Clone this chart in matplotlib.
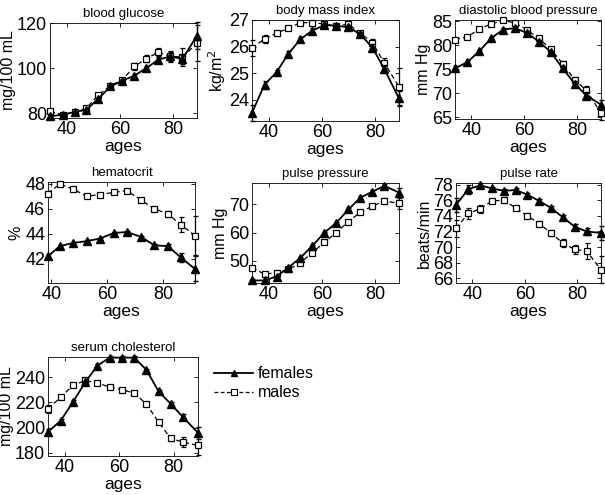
import matplotlib
matplotlib.use("Agg")
import matplotlib.pyplot as plt
from matplotlib.lines import Line2D

plt.rcParams['font.family'] = ['Liberation Sans', 'DejaVu Sans']

ages = [33.8, 38.5, 43, 47.5, 52, 56.5, 61, 65.5, 70, 74.5, 79, 83.5, 89]
ages_hct = [38.8, 43, 47.7, 52.6, 57.2, 62.3, 67, 72.1, 76.7, 81.6, 86.2, 91.3]

glucose_f = [78.5, 79.3, 80.4, 81.5, 86.4, 91.8, 94.4, 96.6, 100, 103.7, 105.2, 104, 114.4]
glucose_m = [80.7, 79.3, 80.4, 82.2, 88.1, 92.1, 94.8, 100.7, 104.2, 107, 105.2, 104.9, 111]
glucose_fe = [0.6, 0.5, 0.5, 0.5, 0.6, 0.7, 0.8, 0.9, 1.0, 1.5, 2.0, 2.0, 6.0]
glucose_me = [0.6, 0.5, 0.5, 0.5, 0.6, 0.7, 0.8, 1.5, 1.5, 2.0, 2.5, 4.0, 8.0]

bmi_f = [23.5, 24.56, 25.03, 25.73, 26.28, 26.6, 26.81, 26.78, 26.73, 26.46, 25.96, 25.15, 24.04]
bmi_m = [25.94, 26.29, 26.5, 26.69, 26.9, 26.9, 26.85, 26.78, 26.84, 26.5, 26.15, 25.38, 24.48]
bmi_fe = [0.3, 0.15, 0.1, 0.1, 0.08, 0.08, 0.08, 0.08, 0.08, 0.1, 0.12, 0.15, 0.3]
bmi_me = [0.3, 0.15, 0.1, 0.08, 0.06, 0.06, 0.06, 0.08, 0.08, 0.1, 0.12, 0.2, 0.7]

dbp_f = [75.2, 76.5, 78.8, 81.5, 83.3, 83.6, 82.6, 80.8, 78.6, 75.2, 72.0, 69.5, 67.6]
dbp_m = [81.2, 81.8, 83.4, 84.5, 85.2, 84.7, 83.2, 81.5, 79.2, 76.2, 72.8, 70.6, 65.8]
dbp_fe = [0.4, 0.3, 0.3, 0.3, 0.3, 0.3, 0.3, 0.3, 0.3, 0.4, 0.5, 0.7, 1.0]
dbp_me = [0.4, 0.3, 0.3, 0.3, 0.3, 0.3, 0.3, 0.3, 0.4, 0.5, 0.6, 1.0, 1.5]

hct_f = [42.2, 43.0, 43.25, 43.4, 43.6, 44.05, 44.13, 43.73, 43.07, 43.0, 42.1, 41.17]
hct_m = [47.2, 47.97, 47.57, 46.99, 47.12, 47.3, 47.44, 46.67, 46.0, 45.57, 44.72, 43.84]
hct_fe = [0.15, 0.1, 0.08, 0.08, 0.08, 0.08, 0.08, 0.1, 0.12, 0.15, 0.35, 1.0]
hct_me = [0.2, 0.1, 0.08, 0.08, 0.08, 0.08, 0.08, 0.1, 0.15, 0.25, 0.6, 1.55]

pp_f = [43.0, 43.0, 44.4, 47.6, 51.1, 55.3, 60.0, 63.5, 68.2, 72.4, 74.5, 76.6, 74.2]
pp_m = [47.6, 45.2, 45.8, 46.9, 49.3, 52.9, 56.6, 60.0, 63.9, 67.2, 69.4, 71.2, 70.4]
pp_fe = [0.4, 0.3, 0.3, 0.3, 0.3, 0.3, 0.3, 0.4, 0.4, 0.5, 0.6, 0.8, 1.5]
pp_me = [0.5, 0.4, 0.3, 0.3, 0.3, 0.3, 0.3, 0.4, 0.4, 0.5, 0.6, 1.0, 2.0]

pr_f = [75.4, 77.4, 77.9, 77.5, 77.2, 77.3, 76.7, 75.9, 75.0, 73.8, 72.6, 72.0, 71.8]
pr_m = [72.4, 74.3, 74.9, 75.9, 76.0, 75.0, 74.0, 73.0, 71.8, 70.5, 69.7, 69.5, 67.1]
pr_fe = [0.9, 0.6, 0.3, 0.2, 0.2, 0.2, 0.2, 0.2, 0.2, 0.3, 0.4, 0.5, 0.9]
pr_me = [1.1, 0.7, 0.5, 0.3, 0.3, 0.3, 0.3, 0.3, 0.4, 0.5, 0.6, 1.0, 1.7]

chol_f = [196.6, 205.5, 220.3, 236.0, 249.2, 255.5, 255.5, 255.5, 245.8, 228.7, 218.7, 208.2, 195.8]
chol_m = [214.7, 224.2, 233.4, 237.4, 235.3, 232.1, 230.0, 227.4, 218.7, 204.2, 191.3, 188.4, 185.8]
chol_fe = [2.0, 1.5, 1.2, 1.0, 1.0, 1.0, 1.0, 1.0, 1.0, 1.2, 1.5, 2.5, 5.0]
chol_me = [3.0, 1.5, 1.2, 1.0, 1.0, 1.0, 1.0, 1.0, 1.2, 1.5, 2.0, 4.0, 8.0]

titles = ["blood glucose", "body mass index", "diastolic blood pressure",
          "hematocrit", "pulse pressure", "pulse rate", "serum cholesterol"]
ylabels = ["mg/100 mL", "kg/m$^2$", "mm Hg", "%", "mm Hg", "beats/min", "mg/100 mL"]
xticks = [40, 60, 80]

panels = [
    (ages, glucose_f, glucose_fe, glucose_m, glucose_me, (77.8, 120), [80, 100, 120]),
    (ages, bmi_f, bmi_fe, bmi_m, bmi_me, (23.19, 26.97), [24, 25, 26, 27]),
    (ages, dbp_f, dbp_fe, dbp_m, dbp_me, (64.6, 85.3), [65, 70, 75, 80, 85]),
    (ages_hct, hct_f, hct_fe, hct_m, hct_me, (40.05, 48.13), [42, 44, 46, 48]),
    (ages, pp_f, pp_fe, pp_m, pp_me, (42.1, 77.6), [50, 60, 70]),
    (ages, pr_f, pr_fe, pr_m, pr_me, (65.4, 78.2), [66, 68, 70, 72, 74, 76, 78]),
    (ages, chol_f, chol_fe, chol_m, chol_me, (177.4, 256.0), [180, 200, 220, 240]),
]

# pixel boxes: left, top, right, bottom
boxes = [
    (50, 23, 197, 118),
    (252, 20, 399, 121),
    (455, 20, 601, 119),
    (48, 182, 195, 283),
    (252, 183, 399, 283),
    (456, 183, 601, 283),
    (48, 357, 198, 456),
]

W, H = 605, 495
fig = plt.figure(figsize=(W / 100, H / 100), dpi=100)

for (x, yf, ef, ym, em, ylim, yt), (l, t, r, b), title, yl in zip(panels, boxes, titles, ylabels):
    ax = fig.add_axes([l / W, 1 - b / H, (r - l) / W, (b - t) / H])
    ax.errorbar(x, ym, yerr=em, color='black', ecolor='black', elinewidth=0.9, capsize=1.8,
                linestyle='--', dashes=(4, 2.5), linewidth=0.9, marker='s', markersize=5,
                markerfacecolor='white', markeredgecolor='black', markeredgewidth=0.9,
                clip_on=False, zorder=3)
    ax.errorbar(x, yf, yerr=ef, color='black', ecolor='black', elinewidth=0.9, capsize=1.8,
                linestyle='-', linewidth=1.3, marker='^', markersize=6,
                markerfacecolor='black', markeredgecolor='black',
                clip_on=False, zorder=4)
    ax.set_xlim(x[0], x[-1])
    ax.set_ylim(*ylim)
    ax.set_xticks(xticks)
    ax.set_yticks(yt)
    ax.tick_params(direction='in', top=True, right=True, length=3, width=0.6, labelsize=13, pad=2)
    ax.set_title(title, fontsize=9.5, pad=4)
    ax.set_xlabel('ages', fontsize=12.5, labelpad=1)
    ax.set_ylabel(yl, fontsize=11.5, labelpad=1)
    for s in ax.spines.values():
        s.set_linewidth(0.6)

h_f = Line2D([], [], color='black', linestyle='-', linewidth=1.3, marker='^', markersize=5,
             markerfacecolor='black')
h_m = Line2D([], [], color='black', linestyle='--', dashes=(3, 2), linewidth=0.9, marker='s',
             markersize=4, markerfacecolor='white', markeredgewidth=0.8)
fig.legend([h_f, h_m], ['females', 'males'], loc='upper left',
           bbox_to_anchor=(208 / W, 1 - 360 / H), frameon=False, fontsize=11.5,
           handlelength=2.4, handletextpad=0.3, labelspacing=0.25, borderaxespad=0)

fig.savefig('out.png', dpi=100)
